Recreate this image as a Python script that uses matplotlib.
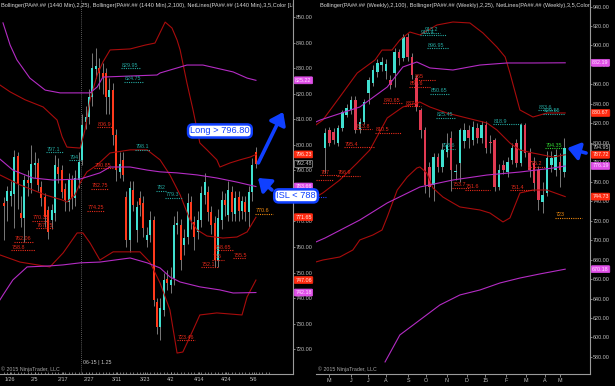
import numpy as np
import matplotlib
matplotlib.use("Agg")
import matplotlib.pyplot as plt
from matplotlib.transforms import blended_transform_factory as blend

plt.rcParams['font.family'] = ['Liberation Sans', 'DejaVu Sans']

# ---------------- LEFT PANEL (daily) ----------------
left_open = [777.2, 778.0, 780.0, 780.8, 795.6, 773.3, 771.4, 786.2, 785.1, 792.1,
             792.9, 783.5, 779.6, 774.5, 770.6, 773.3, 791.3, 790.1, 782.7, 777.6,
             786.2, 779.2, 786.2, 794.1, 808.9, 810.9, 818.7, 829.5, 830.0, 828.1,
             828.1, 818.7, 821.4, 803.8, 789.4, 794.1, 779.6, 762.8, 782.3, 766.7,
             779.2, 777.2, 762.8, 764.7, 770.6, 738.5, 728.7, 735.4, 747.5, 745.2,
             747.9, 768.6, 768.6, 760.8, 763.9, 777.6, 769.8, 765.9, 770.6, 780.4,
             781.5, 773.7, 769.4, 754.9, 770.6, 778.4, 772.5, 781.5, 773.0, 779.5,
             774.0, 777.6, 773.7, 781.5, 797.2]
left_high = [779.6, 784, 786, 798, 797, 780, 788, 790, 800, 797,
             795, 786, 781, 776, 777, 796, 795, 792, 785, 789,
             788, 790, 797, 812, 815, 822, 836, 838, 834, 832,
             830, 826, 824, 806, 797, 797, 782, 786, 786, 778,
             782, 780, 768, 774, 772, 740, 740, 750, 751, 752,
             772, 774, 771, 767, 781, 780, 772, 774, 784, 789,
             784, 776, 772, 775, 782, 781, 786, 784, 782, 782,
             780, 780, 784, 795, 799]
left_low = [762.8, 770, 776, 767.5, 775, 768, 762, 780, 781, 787,
            782, 776, 768, 763, 767, 770, 785, 779, 774, 774,
            775, 776, 783, 792, 806, 808, 815, 826, 822, 820,
            812, 812, 800, 786, 787, 786, 760, 758, 774, 762,
            772, 764, 760, 762, 737, 726, 723.6, 733, 743, 742,
            745, 765, 751, 757, 761, 767, 759, 763, 768, 777,
            770, 765, 752, 752, 767, 772, 770, 770, 770, 770,
            771, 770, 768, 778, 791]
left_close = [776.0, 781.9, 781.9, 795.2, 784.7, 771.4, 786.2, 785.1, 792.5, 792.9,
              784.3, 779.2, 771.8, 765.9, 774.5, 792.1, 788.6, 781.5, 778.4, 786.2,
              779.2, 787.0, 793.3, 807.8, 810.9, 818.7, 830.0, 831.0, 828.1, 826.5,
              818.7, 821.4, 803.8, 790.1, 792.5, 788.2, 762.8, 783.1, 776.5, 775.7,
              776.5, 767.5, 764.7, 770.6, 739.3, 728.7, 736.2, 747.1, 745.9, 747.1,
              768.6, 769.4, 754.9, 763.5, 777.2, 770.6, 763.9, 770.6, 781.1, 785.5,
              773.7, 768.6, 754.9, 771.4, 778.4, 776.5, 782.3, 773.7, 779.0, 774.0,
              778.0, 773.7, 781.5, 792.1, 792.48]
left_date_labels = ['1/26', '2/5', '2/17', '2/27', '3/11', '3/23', '4/2', '4/14', '4/24', '5/6']
left_date_pos = [1.8, 9.1, 17.4, 25.0, 33.2, 41.5, 49.1, 57.4, 65.3, 73.5]

# Bollinger(2,25) - dark red
lbb25_up_x = [-1.2, 1.8, 6.2, 11.5, 15.6, 17.1, 18.5, 22.4, 23.8, 25.3, 27.4, 29.1, 31.2, 37.1, 41.5,
              44.4, 47.4, 49.4, 50.9, 51.8, 53.8, 55.6, 57.6, 59.7, 62.6, 63.5, 66.5, 69.4, 72.4, 74.1]
lbb25_up_y = [823.4, 820.7, 817.6, 814.8, 809.7, 803.1, 799.1, 798.7, 805.8, 817.6, 827.3, 832.4, 837.1, 837.5, 839.0,
              839.8, 848.0, 845.7, 841.0, 837.1, 824.2, 813.6, 800.7, 798.0, 794.1, 791.3, 792.9, 794.1, 795.2, 796.2]
lbb25_mid_x = [-1.2, 4.7, 12.1, 17.1, 18.5, 20.9, 22.4, 24.4, 27.4, 31.2, 37.1, 42.1, 45.9, 48.8, 51.8,
               54.7, 56.8, 59.7, 64.4, 68.5, 71.5, 74.1]
lbb25_mid_y = [788.2, 784.3, 780.4, 778.4, 777.6, 780.4, 785.1, 789.4, 792.1, 796.8, 798.0, 798.0, 794.1, 788.2, 780.4,
               770.6, 766.7, 764.3, 763.5, 763.9, 765.9, 771.65]
lbb25_lo_x = [-1.2, 4.7, 13.5, 17.4, 21.5, 23.2, 25.3, 28.2, 32.1, 40.0, 42.9, 45.9, 48.8, 50.9, 52.6,
              55.6, 57.6, 62.6, 70.0, 71.5, 74.1]
lbb25_lo_y = [756.9, 754.1, 752.2, 757.7, 765.5, 765.5, 761.6, 754.9, 758.1, 758.1, 754.1, 745.9, 735.4, 718.5, 718.9,
              727.5, 733.4, 734.2, 733.4, 740.5, 747.06]
# Bollinger(2,100) - magenta
lbb100_up_x = [-0.3, 1.8, 3.8, 7.6, 12.1, 16.5, 25.3, 27.4, 29.1, 45.0, 45.9, 53.8, 58.5, 67.4, 71.5, 74.1]
lbb100_up_y = [847.7, 839.0, 833.2, 826.1, 821.4, 820.3, 820.3, 822.6, 826.5, 827.3, 828.1, 831.2, 831.2, 828.5, 826.1, 825.22]
lbb100_mid_x = [-1.2, 2.6, 8.5, 14.4, 22.4, 28.2, 31.2, 37.1, 42.1, 45.9, 50.9, 56.8, 62.6, 68.5, 74.1]
lbb100_mid_y = [794.4, 790.1, 787.0, 786.2, 786.6, 789.0, 791.3, 791.3, 790.1, 789.4, 789.0, 788.2, 787.0, 785.4, 783.66]
lbb100_lo_x = [-1.2, -0.3, 2.6, 6.8, 13.5, 17.4, 22.4, 28.2, 32.6, 37.1, 42.1, 45.9, 48.8, 51.8, 57.6, 63.5, 67.4, 74.1]
lbb100_lo_y = [739.3, 741.2, 747.1, 752.2, 752.6, 753.0, 753.8, 754.1, 754.9, 755.7, 753.8, 751.8, 748.3, 746.3, 744.4,
               743.2, 742.0, 742.18]

# NetLines (left)
lnet_val = [829.95, 824.75, 806.9, 798.1, 797.1, 794.0, 790.85, 782.75, 782.0, 779.3, 774.25, 770.35,
            767.25, 762.06, 758.8, 723.46, 752.1, 758.65, 755.0, 755.5, 772.9]
lnet_lab = ['829.95', '824.75', '806.9', '798.1', '797.1', '794', '790.85', '782.75', '782', '779.3', '774.25',
            '770.35', '767.25', '762.06', '758.8', '723.46', '752.1', '758.65', '755', '755.5', '770.6']
lnet_kind = ['c', 'c', 'r', 'c', 'c', 'c', 'r', 'r', 'c', 'c', 'r', 'r', 'r', 'r', 'r', 'r', 'r', 'r', 'r', 'r', 'o']
lnet_x0 = [34.4, 35.3, 27.4, 38.5, 12.4, 19.1, 26.5, 25.6, 44.7, 47.4, 24.4, 8.2, 9.4, 2.9, 2.1, 50.9, 57.9, 61.8, 61.2, 67.4, 73.8]
lnet_x1 = [40.3, 40.9, 32.1, 42.9, 17.4, 22.9, 32.1, 30.6, 47.9, 52.4, 29.4, 13.5, 14.4, 8.5, 9.1, 56.2, 62.9, 67.4, 64.7, 71.2, 79.1]

# axis tags (left)
ltag_val = [825.22, 796.23, 792.48, 783.66, 771.65, 747.06, 742.18]
ltag_kind = ['m', 'r', 'g', 'm', 'r', 'r', 'm']

# ---------------- RIGHT PANEL (weekly) ----------------
right_open = [794.7, 813.2, 811.0, 799.8, 815.2, 828.6, 833.7, 844.0, 814.2, 821.4,
              851.2, 861.4, 872.7, 879.5, 873.5, 864.5, 871.7, 893.3, 887.1, 908.7,
              888.2, 866.6, 833.7, 813.2, 775.0, 756.7, 785.4, 775.2, 790.6, 804.9,
              770.0, 779.3, 801.8, 813.2, 802.9, 815.2, 805.0, 818.3, 800.0, 802.9,
              754.6, 777.2, 770.0, 782.4, 799.8, 779.3, 818.3, 789.5, 779.3, 772.1,
              739.2, 748.5, 777.2, 772.1, 780.3, 770.0]
right_high = [815.2, 816, 815, 818, 834, 840, 848, 848, 825, 845,
              868, 880, 886, 888, 886, 870, 897, 896, 912, 913,
              892, 870, 836, 816, 780, 790, 790, 800, 810, 812,
              778, 815, 820, 818, 822, 820, 822, 822, 808, 805,
              778, 782, 785, 800, 804, 820, 820, 795, 785, 776,
              760, 792, 792, 794, 790, 805]
right_low = [769.0, 797, 799, 797, 812, 826, 830, 810, 810, 819,
             840, 858, 868, 874, 866, 855, 857, 880, 884, 884,
             866, 833, 805, 748, 744, 740, 770, 770, 785, 750,
             762, 760, 795, 795, 798, 800, 800, 790, 790, 750,
             752, 768, 765, 778, 775, 776, 785, 765, 750, 731,
             728, 745, 770, 766, 755, 765]
right_close = [810.1, 799.8, 802.9, 815.2, 831.7, 835.8, 844.0, 813.2, 821.4, 841.9,
               864.5, 874.8, 882.0, 882.5, 881.0, 859.4, 893.3, 887.1, 908.7, 888.2,
               869.7, 836.8, 813.2, 756.7, 754.6, 785.4, 775.2, 792.6, 797.8, 772.1,
               770.6, 813.2, 813.2, 805.0, 816.2, 805.0, 818.3, 794.7, 799.5, 754.6,
               772.1, 772.1, 780.3, 794.7, 779.3, 818.3, 789.5, 772.1, 758.7, 741.3,
               746.4, 784.4, 784.4, 787.5, 772.1, 794.95]
right_month_labels = ['M', 'J', 'J', 'A', 'S', 'O', 'N', 'D', '15', 'F', 'M', 'A', 'M']
right_month_pos = [0.9, 6.0, 9.9, 14.0, 19.1, 23.2, 28.0, 32.6, 36.8, 41.6, 46.2, 50.6, 54.0]

rbb25_up_x = [-2.1, -0.5, 3.4, 7.4, 11.5, 13.1, 15.4, 17.2, 19.5, 21.8, 25.7, 29.4, 33.3, 36.3, 39.5,
              41.4, 42.5, 44.8, 47.8, 51.0, 55.2]
rbb25_up_y = [818.3, 823.4, 847.1, 871.7, 885.1, 895.3, 895.3, 905.6, 913.8, 910.8, 921.0, 924.1, 923.1, 912.8, 898.4,
              888.2, 871.7, 833.7, 826.5, 830.6, 830.67]
rbb25_mid_x = [-2.1, -0.5, 3.4, 7.4, 10.3, 14.3, 17.9, 21.8, 24.1, 28.0, 32.6, 37.2, 39.5, 42.5, 44.8,
               47.8, 52.4, 55.2]
rbb25_mid_y = [744.3, 748.5, 761.8, 779.3, 792.6, 825.5, 836.8, 841.9, 836.8, 830.6, 825.5, 820.4, 813.2, 799.8, 792.6,
               789.5, 785.4, 787.72]
rbb25_lo_x = [-2.1, -0.5, 3.4, 6.4, 8.0, 11.0, 13.1, 14.3, 16.6, 18.9, 21.1, 21.8, 23.4, 24.8, 27.1,
              29.4, 31.0, 35.6, 37.9, 40.9, 42.5, 44.8, 47.8, 51.0, 55.2]
rbb25_lo_y = [677.6, 679.6, 682.7, 689.9, 700.2, 705.3, 710.4, 723.8, 751.5, 764.9, 774.1, 775.2, 769.0, 753.6, 744.3,
              738.2, 734.1, 731.0, 727.9, 718.7, 722.8, 748.5, 751.5, 751.5, 744.73]
rbb100_up_x = [-2.1, -1.1, 8.0, 14.3, 17.9, 21.1, 24.1, 29.4, 35.6, 41.8, 47.8, 55.2]
rbb100_up_y = [821.4, 823.4, 836.8, 857.3, 877.9, 883.0, 876.9, 874.8, 879.9, 882.0, 882.0, 882.19]
rbb100_mid_x = [-2.1, 0.0, 8.0, 14.3, 21.8, 29.4, 37.2, 44.8, 52.4, 55.2]
rbb100_mid_y = [698.1, 702.2, 720.7, 738.2, 754.6, 761.8, 766.9, 770.0, 774.1, 776.19]
rbb100_lo_x = [13.8, 17.2, 21.8, 26.4, 31.0, 35.6, 40.2, 44.8, 49.4, 55.2]
rbb100_lo_y = [574.9, 602.6, 618.0, 633.4, 643.7, 648.8, 656.0, 661.1, 665.3, 670.18]

rnet_val = [913.2, 910.4, 896.95, 865.0, 857.6, 850.65, 840.65, 837.5, 825.45, 813.8, 810.5, 818.9,
            833.6, 829.55, 795.4, 793.6, 794.35, 775.2, 766.6, 766.4, 753.7, 751.6, 751.4, 723.0,
            761.8, 744.3]
rnet_lab = ['913.2', '910.4', '896.95', '865', '857.6', '850.65', '840.65', '837.5', '825.45', '813.8', '810.5',
            '818.9', '833.6', '829.55', '795.4', '793.6', '794.35', '775.2', '767', '766.9', '753.7', '751.6',
            '751.4', '723', '', '']
rnet_kind = ['c', 'c', 'c', 'r', 'r', 'c', 'r', 'r', 'c', 'r', 'r', 'c', 'c', 'c', 'r', 'c', 'g', 'r', 'r', 'r',
             'r', 'r', 'r', 'o', 'r', 'b']
rnet_x0 = [22.8, 21.8, 23.4, 20.5, 19.3, 24.1, 13.3, 18.4, 25.5, 7.1, 11.5, 38.6, 48.9, 50.1, 4.4, 26.7, 50.6,
           46.7, -1.1, 2.8, 29.2, 32.2, 42.5, 52.9, -2.1, -2.1]
rnet_x1 = [26.4, 27.8, 28.5, 25.5, 24.1, 28.7, 17.9, 22.1, 29.9, 10.8, 17.5, 45.1, 53.6, 55.2, 11.3, 29.9, 54.5,
           50.6, 3.4, 8.0, 33.3, 37.9, 47.8, 59.1, 1.8, 0.2]

rtag_val = [882.19, 830.67, 794.95, 787.72, 776.19, 744.73, 670.18]
rtag_kind = ['m', 'r', 'g', 'r', 'm', 'r', 'm']

# ---------------- styling ----------------
W, H = 615, 386
fig = plt.figure(figsize=(W / 100, H / 100), dpi=100, facecolor='black')
axL = fig.add_axes([0 / W, 12 / H, 293 / W, 374 / H])
axR = fig.add_axes([316 / W, 12 / H, 274 / W, 374 / H])
axL.set_zorder(1)

GRAY = '#9a9a9a'
TXT = '#c0c0c0'
FS = 3.9
UP = '#40e0d0'
BRED = '#a80c0c'
MAG = '#b42cc4'
BLUE = '#1040ff'
NETC = {'c': '#24a8a0', 'r': '#e82a1a', 'o': '#f08a10', 'g': '#30d030', 'b': '#2040ff'}
TAGC = {'m': ('#e050e8', '#ffe0ff', '#e050e8'), 'r': ('#ff2a10', '#ffe6e0', '#ff2a10'),
        'g': ('black', '#c8c8c8', '#a0a0a0')}


def setup(ax, xlim, ylim, yt, xt, xtl, xdir):
    ax.set_facecolor('none')
    ax.set_xlim(*xlim)
    ax.set_ylim(*ylim)
    for s in ('top', 'left'):
        ax.spines[s].set_visible(False)
    for s in ('right', 'bottom'):
        ax.spines[s].set_color(GRAY)
        ax.spines[s].set_linewidth(0.8)
    ax.yaxis.tick_right()
    ax.set_yticks(yt)
    ax.set_yticklabels([f'{v:.2f}' for v in yt])
    ax.set_xticks(xt)
    ax.set_xticklabels(xtl)
    ax.tick_params(axis='y', colors=GRAY, labelcolor=TXT, labelsize=FS, length=1.6, width=0.6, pad=0.6)
    ax.tick_params(axis='x', colors=GRAY, labelcolor=TXT, labelsize=FS, length=1.8, width=0.6,
                   pad=2.2 if xdir == 'in' else 0.8, direction=xdir)


def candles(ax, o, h, l, c, dn, width, minh):
    o, h, l, c = (np.asarray(a, float) for a in (o, h, l, c))
    x = np.arange(len(o))
    ax.vlines(x, l, h, colors='#8c8c8c', linewidth=0.6, zorder=3)
    bottom = np.minimum(o, c)
    height = np.maximum(np.abs(c - o), minh)
    cols = [UP if cc >= oo else dn for oo, cc in zip(o, c)]
    ax.bar(x, height, width, bottom, color=cols, linewidth=0, zorder=4)


def netlines(ax, vals, labs, kinds, x0s, x1s):
    for v, lab, k, a, b in zip(vals, labs, kinds, x0s, x1s):
        col = NETC[k]
        ax.plot([a, b], [v, v], color=col, lw=0.8, ls=(0, (1, 1)), zorder=6)
        if lab:
            ax.annotate(lab, (a, v), xytext=(0.6, 0.4), textcoords='offset points', fontsize=FS,
                        color=col, ha='left', va='bottom', zorder=6)


def tags(ax, vals, kinds, axw):
    tr = blend(ax.transAxes, ax.transData)
    for v, k in zip(vals, kinds):
        fc, tc, ec = TAGC[k]
        ax.text(1 + 2.2 / axw, v, f'{v:.2f}', transform=tr, fontsize=FS, color=tc, ha='left', va='center',
                zorder=20, clip_on=False,
                bbox=dict(boxstyle='round,pad=0.18', fc=fc, ec=ec, lw=0.5))


# LEFT
setup(axL, (-1.18, 85.0), (710.3, 856.65), np.arange(720, 851, 10), left_date_pos, left_date_labels, 'in')
axL.set_xticks(np.arange(0, 79), minor=True)
axL.tick_params(axis='x', which='minor', colors=GRAY, length=1.3, width=0.5, direction='in')
axL.axvline(22.6, color='#7a7a7a', lw=0.6, ls=(0, (1, 1.5)), zorder=2)
candles(axL, left_open, left_high, left_low, left_close, '#ff3a1c', 0.6, 0.4)
for xs, ys, col in [(lbb25_up_x, lbb25_up_y, BRED), (lbb25_mid_x, lbb25_mid_y, BRED), (lbb25_lo_x, lbb25_lo_y, BRED),
                    (lbb100_up_x, lbb100_up_y, MAG), (lbb100_mid_x, lbb100_mid_y, MAG),
                    (lbb100_lo_x, lbb100_lo_y, MAG)]:
    axL.plot(xs, ys, color=col, lw=0.8, zorder=5)
netlines(axL, lnet_val, lnet_lab, lnet_kind, lnet_x0, lnet_x1)
tags(axL, ltag_val, ltag_kind, 293)
axL.text(0.002, 0.992,
         'Bollinger(PA##.## (1440 Min),2,25), Bollinger(PA##.## (1440 Min),2,100), NetLines(PA##.## (1440 Min),3,5,Color [Lines]',
         transform=axL.transAxes, fontsize=4.05, color='#d8d8d8', ha='left', va='top', clip_on=True, zorder=8)
axL.text(0.004, 0.012, '\u00a9 2015 NinjaTrader, LLC', transform=axL.transAxes, fontsize=3.8, color='#a8a8a8',
         ha='left', va='center', zorder=8)
axL.text(23.2, 0.032, '06-15 | 1.25', transform=blend(axL.transData, axL.transAxes), fontsize=3.8,
         color='#c8c8c8', ha='left', va='center', zorder=8)

# annotations
box = dict(boxstyle='round,pad=0.22,rounding_size=0.5', fc='white', ec=BLUE, lw=1.8)
axL.text(63.5, 805.4, 'Long > 796.80', fontsize=6.7, color=BLUE, ha='center', va='center', bbox=box,
         zorder=30, clip_on=False)
axL.text(85.9, 780.0, 'ISL < 788', fontsize=6.7, color=BLUE, ha='center', va='center', bbox=box,
         zorder=30, clip_on=False)
arr = dict(arrowstyle='-|>,head_length=0.55,head_width=0.4', color=BLUE, lw=2.6, mutation_scale=13,
           shrinkA=0, shrinkB=0)
axL.annotate('', xy=(82.1, 812.8), xytext=(74.8, 792.9), arrowprops=arr, zorder=30)
axL.annotate('', xy=(74.7, 787.0), xytext=(78.8, 782.3), arrowprops=arr, zorder=30)

# RIGHT
setup(axR, (-2.07, 60.9), (562.5, 946.7), np.arange(580, 941, 20), right_month_pos, right_month_labels, 'out')
candles(axR, right_open, right_high, right_low, right_close, '#e23a52', 0.6, 1.0)
for xs, ys, col in [(rbb25_up_x, rbb25_up_y, BRED), (rbb25_mid_x, rbb25_mid_y, BRED), (rbb25_lo_x, rbb25_lo_y, BRED),
                    (rbb100_up_x, rbb100_up_y, MAG), (rbb100_mid_x, rbb100_mid_y, MAG),
                    (rbb100_lo_x, rbb100_lo_y, MAG)]:
    axR.plot(xs, ys, color=col, lw=0.8, zorder=5)
netlines(axR, rnet_val, rnet_lab, rnet_kind, rnet_x0, rnet_x1)
tags(axR, rtag_val, rtag_kind, 274)
axR.text(0.014, 0.992,
         'Bollinger(PA##.## (Weekly),2,100), Bollinger(PA##.## (Weekly),2,25), NetLines(PA##.## (Weekly),3,5,Color',
         transform=axR.transAxes, fontsize=4.05, color='#d8d8d8', ha='left', va='top', clip_on=True, zorder=8)
axR.text(0.008, 0.012, '\u00a9 2015 NinjaTrader, LLC', transform=axR.transAxes, fontsize=3.8, color='#a8a8a8',
         ha='left', va='center', zorder=8)
axR.annotate('', xy=(55.7, 794.6), xytext=(60.0, 789.5), arrowprops=arr, zorder=30)

fig.savefig('out.png', dpi=100, facecolor='black')
